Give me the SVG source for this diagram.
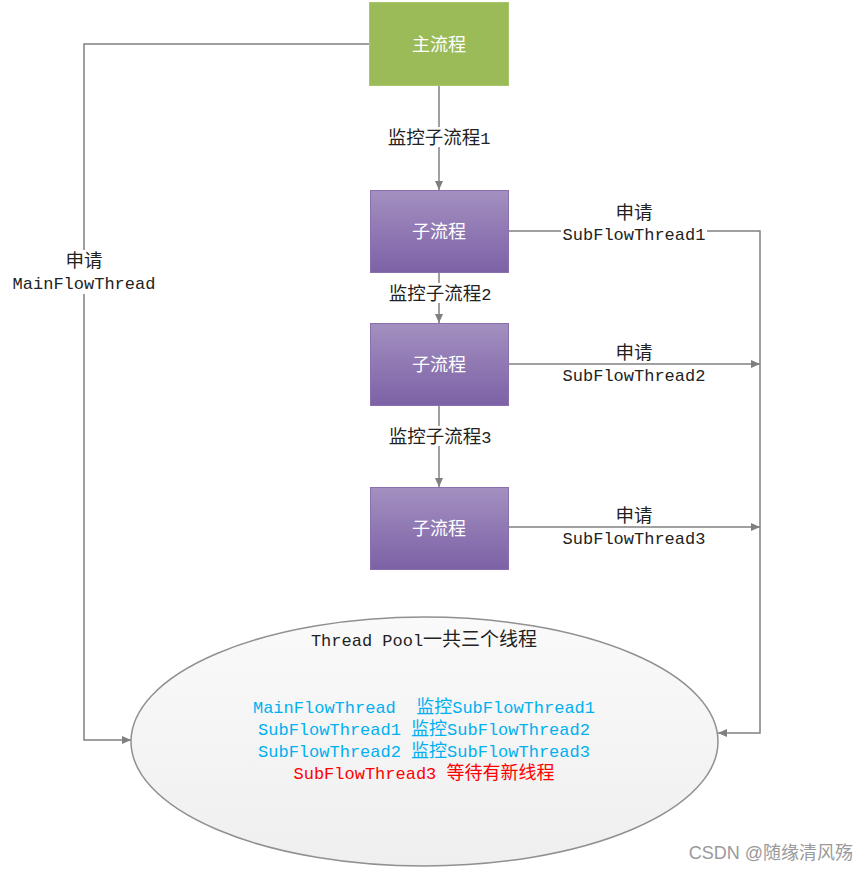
<svg xmlns="http://www.w3.org/2000/svg" width="865" height="872" viewBox="0 0 865 872">
<defs>
<linearGradient id="purp" x1="0" y1="0" x2="0" y2="1">
<stop offset="0" stop-color="#A390C0"/>
<stop offset="1" stop-color="#7D61A6"/>
</linearGradient>
<linearGradient id="pool" x1="0" y1="0" x2="0" y2="1">
<stop offset="0" stop-color="#FAFAFA"/>
<stop offset="1" stop-color="#EFEFEF"/>
</linearGradient>
<marker id="arr" markerWidth="10" markerHeight="10" refX="9" refY="5" orient="auto" markerUnits="userSpaceOnUse">
<path d="M0,1 L9,5 L0,9 Z" fill="#7F7F7F"/>
</marker>
<style>
.ln{fill:none;stroke:#808080;stroke-width:1.5}
.lbl{font-family:"Liberation Mono","Noto Sans CJK SC",monospace;font-size:17px;fill:#222;text-anchor:middle}
.cj{font-family:"Noto Sans CJK SC",sans-serif;font-size:18.5px}
.bg{fill:#fff}
.box{font-family:"Noto Sans CJK SC","Liberation Sans",sans-serif;font-size:18px;fill:#fff;text-anchor:middle}
.pt{font-family:"Liberation Mono","Noto Sans CJK SC",monospace;font-size:17px;text-anchor:middle}
.pc{font-size:18px}
</style>
</defs>
<rect width="865" height="872" fill="#fff"/>
<g id="connectors">
<path class="ln" d="M439,86 V190" marker-end="url(#arr)"/>
<path class="ln" d="M439,272 V323" marker-end="url(#arr)"/>
<path class="ln" d="M439,405 V487" marker-end="url(#arr)"/>
<path class="ln" d="M369,44 H84 V740 H131" marker-end="url(#arr)"/>
<path class="ln" d="M509,231 H760 V733 H718" marker-end="url(#arr)"/>
<path class="ln" d="M509,364 H760" marker-end="url(#arr)"/>
<path class="ln" d="M509,527 H760" marker-end="url(#arr)"/>
<rect class="bg" x="384" y="127" width="110" height="20"/>
<rect class="bg" x="384" y="283" width="110" height="20"/>
<rect class="bg" x="384" y="426" width="110" height="20"/>
<rect class="bg" x="10" y="250" width="148" height="44"/>
<rect class="bg" x="561" y="224" width="146" height="16"/>
<rect class="bg" x="561" y="366" width="146" height="6"/>
<rect class="bg" x="561" y="529" width="146" height="6"/>
<text class="lbl" x="439" y="144"><tspan class="cj">监控子流程</tspan>1</text>
<text class="lbl" x="440" y="300"><tspan class="cj">监控子流程</tspan>2</text>
<text class="lbl" x="440" y="443"><tspan class="cj">监控子流程</tspan>3</text>
<text class="lbl cj" x="84" y="267">申请</text>
<text class="lbl" x="84" y="289">MainFlowThread</text>
<text class="lbl cj" x="634" y="219">申请</text>
<text class="lbl" x="634" y="240">SubFlowThread1</text>
<text class="lbl cj" x="634" y="359">申请</text>
<text class="lbl" x="634" y="381">SubFlowThread2</text>
<text class="lbl cj" x="634" y="522">申请</text>
<text class="lbl" x="634" y="544">SubFlowThread3</text>
</g>
<g id="main">
<rect x="369.5" y="2.5" width="139" height="83" fill="#9BBB59" stroke="#A9C66E" stroke-width="1"/>
<text class="box" x="439" y="51">主流程</text>
</g>
<g id="sub1">
<rect x="370.5" y="190.5" width="138" height="82" fill="url(#purp)" stroke="#8A70AE" stroke-width="1"/>
<text class="box" x="439" y="238">子流程</text>
</g>
<g id="sub2">
<rect x="370.5" y="323.5" width="138" height="82" fill="url(#purp)" stroke="#8A70AE" stroke-width="1"/>
<text class="box" x="439" y="371">子流程</text>
</g>
<g id="sub3">
<rect x="370.5" y="487.5" width="138" height="82" fill="url(#purp)" stroke="#8A70AE" stroke-width="1"/>
<text class="box" x="439" y="535">子流程</text>
</g>
<g id="pool">
<ellipse cx="424.5" cy="741.5" rx="293.5" ry="124.5" fill="url(#pool)" stroke="#909090" stroke-width="1.5"/>
<text class="pt" x="424" y="646" fill="#222">Thread Pool<tspan font-size="19">一共三个线程</tspan></text>
<text class="pt" x="424" y="713" fill="#00B0F0" xml:space="preserve">MainFlowThread  <tspan class="pc">监控</tspan>SubFlowThread1</text>
<text class="pt" x="424" y="735" fill="#00B0F0">SubFlowThread1 <tspan class="pc">监控</tspan>SubFlowThread2</text>
<text class="pt" x="424" y="757" fill="#00B0F0">SubFlowThread2 <tspan class="pc">监控</tspan>SubFlowThread3</text>
<text class="pt" x="424" y="779" fill="#FF0000">SubFlowThread3 <tspan class="pc">等待有新线程</tspan></text>
</g>
<text x="853" y="859" font-family="Liberation Sans,'Noto Sans CJK SC',sans-serif" font-size="18" fill="#9A9A9A" text-anchor="end">CSDN @随缘清风殇</text>
</svg>
